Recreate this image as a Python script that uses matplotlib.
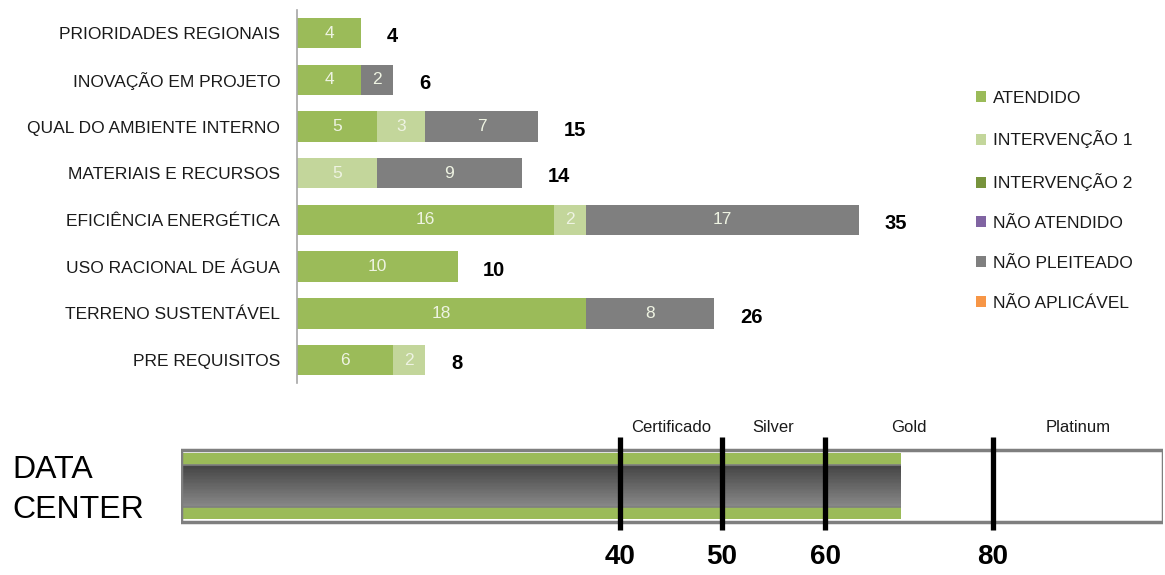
"""
LEED scorecard chart for a data center: stacked bars by credit category
plus a certification gauge underneath.
"""

import numpy as np
import matplotlib
matplotlib.use("Agg")
import matplotlib.pyplot as plt
from matplotlib.patches import Patch, Rectangle
from matplotlib.transforms import blended_transform_factory

plt.rcParams.update({
    "font.family": ["Liberation Sans", "DejaVu Sans"],
    "figure.facecolor": "white",
    "axes.facecolor": "white",
})

# ---------------------------------------------------------------------------
# Data
# ---------------------------------------------------------------------------
CATEGORIES = [
    "PRIORIDADES REGIONAIS",
    "INOVAÇÃO EM PROJETO",
    "QUAL DO AMBIENTE INTERNO",
    "MATERIAIS E RECURSOS",
    "EFICIÊNCIA ENERGÉTICA",
    "USO RACIONAL DE ÁGUA",
    "TERRENO SUSTENTÁVEL",
    "PRE REQUISITOS",
]
ATENDIDO = [4, 4, 5, 0, 16, 10, 18, 6]
INTERVENCAO_1 = [0, 0, 3, 5, 2, 0, 0, 2]
INTERVENCAO_2 = [0, 0, 0, 0, 0, 0, 0, 0]
NAO_ATENDIDO = [0, 0, 0, 0, 0, 0, 0, 0]
NAO_PLEITEADO = [0, 2, 7, 9, 17, 0, 8, 0]
NAO_APLICAVEL = [0, 0, 0, 0, 0, 0, 0, 0]

SERIES_NAMES = ["ATENDIDO", "INTERVENÇÃO 1", "INTERVENÇÃO 2",
                "NÃO ATENDIDO", "NÃO PLEITEADO", "NÃO APLICÁVEL"]
SERIES_COLORS = ["#9BBB59", "#C3D69B", "#77933C", "#8064A2", "#7F7F7F", "#F79646"]

# certification gauge
LEVEL_POINTS = [40, 50, 60, 80]
LEVEL_NAMES = ["Certificado", "Silver", "Gold", "Platinum"]
GAUGE_MAX = 110
ACHIEVED = 69

# the gauge drawing is schematic (not linear): points -> fraction of bar
GAUGE_PTS = [0, 40, 50, 60, 80, 110]
GAUGE_POS = [0.0, 0.447, 0.551, 0.656, 0.827, 1.0]

W, H = 1165, 575
fig = plt.figure(figsize=(W / 100, H / 100), dpi=100)

# ===================================================================
# Top: stacked horizontal bars
# ===================================================================
ax = fig.add_axes([297 / W, (H - 383.4) / H, 642 / W, 373.6 / H])
series = [ATENDIDO, INTERVENCAO_1, INTERVENCAO_2,
          NAO_ATENDIDO, NAO_PLEITEADO, NAO_APLICAVEL]
y = np.arange(len(CATEGORIES))
left = np.zeros(len(CATEGORIES))
for name, vals, color in zip(SERIES_NAMES, series, SERIES_COLORS):
    vals = np.array(vals, dtype=float)
    ax.barh(y, vals, left=left, height=0.65, color=color, label=name)
    for yi, l, v in zip(y, left, vals):
        if v > 0:
            ax.text(l + v / 2, yi, f"{v:.0f}", ha="center", va="center",
                    fontsize=12.5, color="#EEF3E2")
    left += vals

for yi, total in zip(y, left):
    ax.text(total + 1.6, yi + 0.08, f"{total:.0f}", ha="left", va="center",
            fontsize=14.5, fontweight="bold", color="black")

ax.set_xlim(0, 40)
ax.set_ylim(7.5, -0.5)
ax.set_yticks(y)
ax.set_yticklabels(CATEGORIES, fontsize=12.5, color="#1a1a1a")
ax.tick_params(axis="y", length=0, pad=12)
ax.set_xticks([])
for s in ["top", "right", "bottom"]:
    ax.spines[s].set_visible(False)
ax.spines["left"].set_color("#A6A6A6")
ax.spines["left"].set_linewidth(1.2)

handles = [Patch(facecolor=c, edgecolor="none") for c in SERIES_COLORS]
fig.legend(handles, SERIES_NAMES, loc="upper left",
           bbox_to_anchor=(960 / W, 1 - 75 / H), frameon=False,
           fontsize=12.5, handlelength=0.6, handleheight=0.6,
           handletextpad=0.4, labelspacing=1.43, labelcolor="#1a1a1a")

# ===================================================================
# Bottom: certification gauge
# ===================================================================
def fwd(v):
    return np.interp(v, GAUGE_PTS, GAUGE_POS)


def inv(u):
    return np.interp(u, GAUGE_POS, GAUGE_PTS)


gx = fig.add_axes([181 / W, 0, 982 / W, 175 / H])
gx.set_xscale("function", functions=(fwd, inv))
gx.set_xlim(0, GAUGE_MAX)
gx.set_ylim(0, 175)
gx.axis("off")
bt = blended_transform_factory(gx.transAxes, gx.transData)

# outer frame
gx.add_patch(Rectangle((0, 53), 1, 72, transform=bt,
                       facecolor="white", edgecolor="none", zorder=1))
gx.add_patch(Rectangle((0, 53), 1, 72, transform=bt,
                       facecolor="none", edgecolor="#7F7F7F", linewidth=2.5, zorder=4))

# achieved points: green band with dark tube in the middle
gx.barh(89, ACHIEVED, height=66, color="#9BBB59", zorder=2)
n_strips = 30
tube_lo, tube_hi = 68, 110
edges = np.linspace(tube_hi, tube_lo, n_strips + 1)
shades = np.linspace(0.27, 0.53, n_strips)
for top, bot, s in zip(edges[:-1], edges[1:], shades):
    gx.barh((top + bot) / 2, ACHIEVED, height=top - bot + 0.3,
            color=(s, s, s), zorder=3)
gx.hlines([tube_lo, tube_hi], 0, ACHIEVED, color="#7F7F7F", lw=1.2, zorder=3)

# level markers
gx.vlines(LEVEL_POINTS, 45, 138, color="black", lw=3.8, zorder=5)
for pts in LEVEL_POINTS:
    gx.text(pts, 18, f"{pts}", ha="center", va="center",
            fontsize=20, fontweight="bold", color="black")

bounds = LEVEL_POINTS + [GAUGE_MAX]
for name, lo, hi in zip(LEVEL_NAMES, bounds[:-1], bounds[1:]):
    u = (fwd(lo) + fwd(hi)) / 2
    gx.text(u, 148, name, transform=bt, ha="center", va="center",
            fontsize=12, color="#1a1a1a",
            family=["Liberation Sans Narrow", "Liberation Sans", "DejaVu Sans"])

fig.text(12 / W, 1 - 490 / H, "DATA\nCENTER", ha="left", va="center",
         fontsize=23, color="black", linespacing=1.4)

fig.savefig("out.png", dpi=100)
